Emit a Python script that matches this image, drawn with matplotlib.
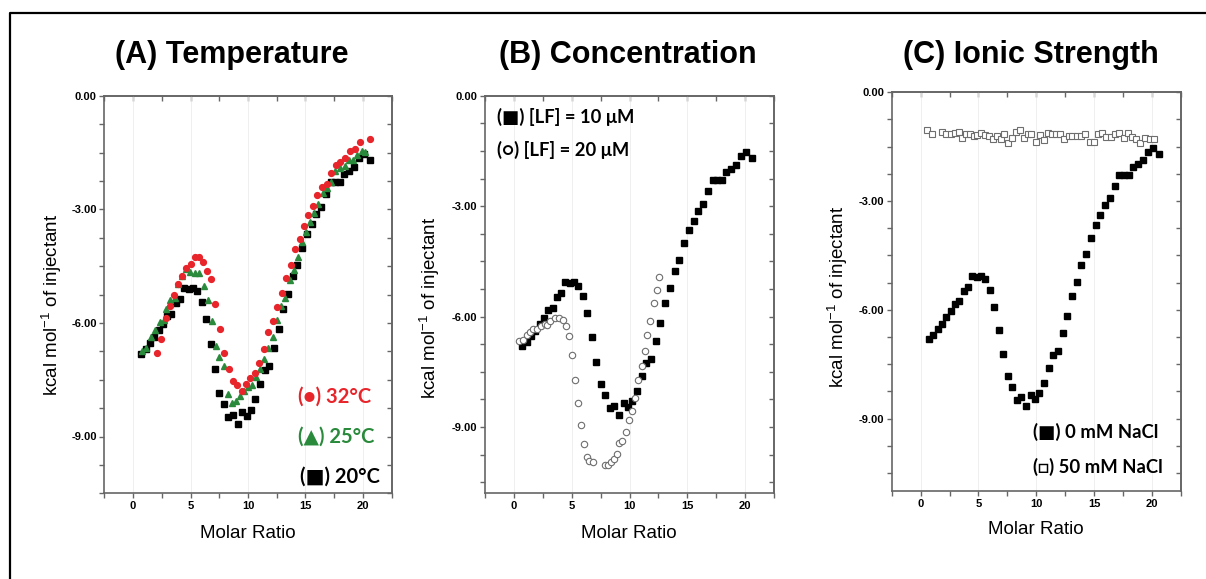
import numpy as np
import matplotlib
matplotlib.use("Agg")
import matplotlib.pyplot as plt
from matplotlib.lines import Line2D
from matplotlib.ticker import MultipleLocator, FormatStrFormatter

plt.rcParams['axes.unicode_minus'] = False
plt.rcParams['mathtext.fontset'] = 'custom'
plt.rcParams['mathtext.rm'] = 'Liberation Sans'
plt.rcParams['mathtext.it'] = 'Liberation Sans'

# reference run (20 C, 10 uM LF, 0 mM NaCl) - black squares in every panel
ref_x = [0.72, 1.09, 1.47, 1.84, 2.22, 2.59, 2.96, 3.34, 3.71, 4.09, 4.46, 4.83, 5.21,
         5.58, 5.96, 6.36, 6.76, 7.14, 7.51, 7.88, 8.29, 8.66, 9.09, 9.50, 9.87, 10.24,
         10.65, 11.05, 11.45, 11.86, 12.26, 12.66, 13.06, 13.47, 13.90, 14.30, 14.71,
         15.14, 15.54, 15.94, 16.37, 16.78, 17.18, 17.58, 17.99, 18.39, 18.82, 19.22,
         19.65, 20.09, 20.58]
ref_y = [-6.81, -6.69, -6.54, -6.38, -6.20, -6.04, -5.83, -5.77, -5.48, -5.37, -5.07,
         -5.10, -5.07, -5.16, -5.45, -5.91, -6.55, -7.22, -7.84, -8.13, -8.48, -8.42,
         -8.66, -8.36, -8.45, -8.29, -8.02, -7.62, -7.25, -7.14, -6.65, -6.17, -5.63,
         -5.23, -4.76, -4.46, -4.01, -3.65, -3.39, -3.12, -2.93, -2.59, -2.28, -2.28,
         -2.28, -2.06, -1.98, -1.87, -1.64, -1.53, -1.69]

# (A) 32 C
t32_x = [2.11, 2.40, 2.83, 3.18, 3.55, 3.90, 4.28, 4.62, 5.00, 5.35, 5.72, 6.07, 6.45,
         6.79, 7.17, 7.57, 7.92, 8.32, 8.70, 9.08, 9.45, 9.83, 10.20, 10.61, 10.98,
         11.36, 11.73, 12.14, 12.51, 12.92, 13.29, 13.70, 14.08, 14.48, 14.86, 15.26,
         15.66, 16.04, 16.45, 16.85, 17.25, 17.63, 18.03, 18.44, 18.84, 19.28, 19.71,
         20.58]
t32_y = [-6.79, -6.42, -5.86, -5.56, -5.25, -4.96, -4.77, -4.54, -4.45, -4.27, -4.27,
         -4.40, -4.62, -4.85, -5.50, -6.17, -6.80, -7.21, -7.54, -7.65, -7.79, -7.61,
         -7.46, -7.33, -7.05, -6.68, -6.25, -5.95, -5.57, -5.21, -4.81, -4.46, -4.04,
         -3.78, -3.45, -3.16, -2.92, -2.61, -2.41, -2.34, -2.04, -1.83, -1.76, -1.65,
         -1.47, -1.40, -1.21, -1.15]

# (A) 25 C
t25_x = [0.81, 1.16, 1.59, 1.94, 2.32, 2.66, 2.89, 3.24, 3.62, 3.95, 4.25, 4.63, 4.98,
         5.35, 5.72, 6.16, 6.54, 6.88, 7.23, 7.52, 7.92, 8.24, 8.59, 8.97, 9.34, 9.69,
         10.02, 10.35, 10.70, 11.05, 11.42, 11.77, 12.14, 12.49, 12.87, 13.24, 13.65,
         14.00, 14.31, 14.70, 15.06, 15.40, 15.75, 16.12, 16.50, 16.85, 17.20, 17.60,
         18.00, 18.40, 18.80, 19.10, 19.50, 19.90, 20.20]
t25_y = [-6.75, -6.67, -6.38, -6.20, -5.98, -5.93, -5.63, -5.40, -5.35, -4.98, -4.77,
         -4.57, -4.65, -4.67, -4.67, -5.03, -5.40, -5.96, -6.60, -6.89, -7.15, -7.89,
         -8.11, -8.07, -7.94, -7.79, -7.70, -7.64, -7.44, -7.21, -6.96, -6.66, -6.37,
         -5.93, -5.56, -5.33, -4.88, -4.61, -4.26, -3.87, -3.60, -3.33, -3.10, -2.85,
         -2.58, -2.45, -2.27, -1.98, -1.90, -1.86, -1.70, -1.70, -1.57, -1.47, -1.49]

# (B) [LF] = 20 uM
lf20_x = [0.43, 0.75, 1.10, 1.39, 1.67, 2.02, 2.37, 2.66, 2.89, 3.12, 3.55, 3.93, 4.22,
          4.51, 4.79, 5.04, 5.30, 5.54, 5.80, 6.03, 6.32, 6.52, 6.81, 7.85, 8.12, 8.40,
          8.63, 8.89, 9.10, 9.38, 9.67, 9.95, 10.21, 10.48, 10.77, 11.05, 11.30, 11.54,
          11.80, 12.10, 12.36, 12.55]
lf20_y = [-6.66, -6.64, -6.51, -6.42, -6.33, -6.35, -6.26, -6.19, -6.23, -6.13, -6.03,
          -6.05, -6.08, -6.25, -6.53, -7.05, -7.72, -8.34, -8.95, -9.45, -9.81, -9.92,
          -9.94, -10.04, -10.03, -9.96, -9.86, -9.72, -9.44, -9.37, -9.13, -8.80, -8.56,
          -8.20, -7.73, -7.35, -6.93, -6.51, -6.13, -5.64, -5.28, -4.92]

# (C) 50 mM NaCl
nacl50_x = [0.58, 0.95, 1.87, 2.22, 2.59, 2.96, 3.28, 3.60, 3.91, 4.26, 4.60, 4.89, 5.21,
            5.55, 5.90, 6.22, 6.56, 6.91, 7.19, 7.57, 7.91, 8.20, 8.58, 8.92, 9.24, 9.58,
            9.99, 10.30, 10.65, 10.99, 11.34, 11.68, 12.03, 12.43, 12.78, 13.12, 13.53,
            13.90, 14.24, 14.62, 14.96, 15.34, 15.68, 16.06, 16.46, 16.83, 17.18, 17.55,
            17.90, 18.27, 18.65, 18.99, 19.42, 19.86, 20.20]
nacl50_y = [-1.04, -1.16, -1.09, -1.16, -1.14, -1.12, -1.09, -1.26, -1.14, -1.16, -1.21,
            -1.18, -1.11, -1.18, -1.21, -1.30, -1.21, -1.29, -1.16, -1.39, -1.27, -1.09,
            -1.04, -1.27, -1.16, -1.16, -1.37, -1.18, -1.32, -1.11, -1.16, -1.16, -1.14,
            -1.29, -1.20, -1.21, -1.20, -1.21, -1.14, -1.37, -1.37, -1.16, -1.11, -1.23,
            -1.23, -1.16, -1.11, -1.27, -1.12, -1.23, -1.30, -1.39, -1.27, -1.30, -1.30]

x_ticks = [0, 5, 10, 15, 20]
y_ticks = [0.0, -3.0, -6.0, -9.0]

RED = '#e8252b'
GREEN = '#2a8a3c'
SPINE = '#666666'
W, H = 1206, 579


def px(x, y):
    return x / W, 1 - y / H


def setup_axes(ax, ybottom):
    ax.set_xlim(-2.5, 22.5)
    ax.set_ylim(ybottom, 0)
    ax.set_xticks(x_ticks)
    ax.set_yticks(y_ticks)
    ax.xaxis.set_minor_locator(MultipleLocator(2.5))
    ax.yaxis.set_minor_locator(MultipleLocator(0.75))
    ax.yaxis.set_major_formatter(FormatStrFormatter('%.2f'))
    for sp in ax.spines.values():
        sp.set_color(SPINE)
        sp.set_linewidth(1.2)
    ax.tick_params(which='both', direction='out', length=3.5, width=1, color=SPINE,
                   labelsize=8, pad=2)
    for lab in ax.get_xticklabels() + ax.get_yticklabels():
        lab.set_fontweight('bold')
        lab.set_family('Liberation Sans')
    ax.grid(axis='x', which='major', color='#ececec', linewidth=0.6)
    ax.set_axisbelow(True)
    # top / right mirror ticks point inward
    top = ax.secondary_xaxis('top')
    top.set_xticks(x_ticks)
    top.xaxis.set_minor_locator(MultipleLocator(2.5))
    top.tick_params(which='both', direction='in', length=3.5, width=1, color=SPINE,
                    labeltop=False)
    right = ax.secondary_yaxis('right')
    right.set_yticks(y_ticks)
    right.yaxis.set_minor_locator(MultipleLocator(0.75))
    right.tick_params(which='both', direction='in', length=3.5, width=1, color=SPINE,
                      labelright=False)
    for s in (top, right):
        for sp in s.spines.values():
            sp.set_color(SPINE)
            sp.set_linewidth(1.2)


fig = plt.figure(figsize=(12.06, 5.79), dpi=100)

axA = fig.add_axes([104.3 / W, 1 - 493.3 / H, 287.4 / W, 397.6 / H])
axB = fig.add_axes([485 / W, 1 - 493.3 / H, 289 / W, 397.6 / H])
axC = fig.add_axes([891.7 / W, 1 - 491 / H, 289.3 / W, 398.7 / H])

# (A) Temperature
axA.plot(ref_x, ref_y, 's', color='black', ms=4.3, zorder=3)
axA.plot(t25_x, t25_y, '^', color=GREEN, ms=5, zorder=4)
axA.plot(t32_x, t32_y, 'o', color=RED, ms=4.2, zorder=5)
setup_axes(axA, -10.5)

# (B) Concentration
axB.plot(ref_x, ref_y, 's', color='black', ms=4.3, zorder=3)
axB.plot(lf20_x, lf20_y, 'o', mfc='white', mec='#6e6e6e', mew=0.8, ms=4.6, zorder=4)
setup_axes(axB, -10.8)

# (C) Ionic strength
axC.plot(ref_x, ref_y, 's', color='black', ms=4.3, zorder=3)
axC.plot(nacl50_x, nacl50_y, 's', mfc='white', mec='#6e6e6e', mew=0.8, ms=4.3, zorder=4)
setup_axes(axC, -11.0)

# titles
title_kw = dict(fontsize=22, fontweight='bold', family='Liberation Sans',
                ha='center', va='center')
fig.text(*px(232, 55), '(A) Temperature', **title_kw)
fig.text(*px(628, 55), '(B) Concentration', **title_kw)
fig.text(*px(1031, 55), '(C) Ionic Strength', **title_kw)

# axis labels
lab_kw = dict(fontsize=13.5, family='Liberation Sans', ha='center', va='center')
ylab = r'kcal mol$^{\mathregular{-1}}$ of injectant'
fig.text(*px(52, 305), ylab, rotation=90, **lab_kw)
fig.text(*px(430, 308), ylab, rotation=90, **lab_kw)
fig.text(*px(838, 297), ylab, rotation=90, **lab_kw)
fig.text(*px(248, 533), 'Molar Ratio', **lab_kw)
fig.text(*px(629, 533), 'Molar Ratio', **lab_kw)
fig.text(*px(1036, 530), 'Molar Ratio', **lab_kw)

# in-plot legends
leg_kw = dict(fontweight='bold', family=['Lato', 'DejaVu Sans'], ha='left', va='center')
fig.text(*px(298, 397), '(\u25cf) 32°C', color=RED, fontsize=14.5, **leg_kw)
fig.text(*px(298, 437), '(\u25b2) 25°C', color=GREEN, fontsize=14.5, **leg_kw)
fig.text(*px(300, 477), '(\u25a0) 20°C', color='black', fontsize=14.5, **leg_kw)
fig.text(*px(497, 117), '(\u25a0) [LF] = 10 \u03bcM', color='black', fontsize=13.2, **leg_kw)
fig.text(*px(497, 150), '(\u25cb) [LF] = 20 \u03bcM', color='black', fontsize=13.2, **leg_kw)
fig.text(*px(1033, 432), '(\u25a0) 0 mM NaCl', color='black', fontsize=13.3, **leg_kw)
fig.text(*px(1033, 467), '(\u25a1) 50 mM NaCl', color='black', fontsize=13.3, **leg_kw)

# outer frame (left and top edges)
fig.add_artist(Line2D([10 / W, 10 / W, 1.0], [0.0, 1 - 13 / H, 1 - 13 / H],
                      transform=fig.transFigure, color='black', linewidth=1.6))

fig.savefig('out.png', dpi=100)
